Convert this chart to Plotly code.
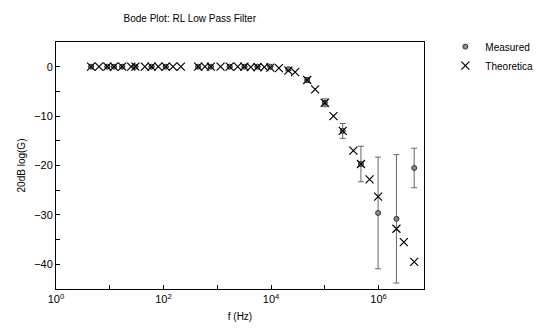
import plotly.graph_objects as go

# Theoretical points (Hz, dB)
theo_f = [4.5, 6.3, 9, 12, 17, 25, 30, 45, 60, 80, 110, 150, 210,
          440, 590, 760, 1150, 1700, 2400, 3200, 4200, 5600, 7500, 9700,
          14000, 21000, 28000, 47000, 66000, 100000, 145000, 215000, 340000,
          470000, 680000, 980000, 2150000, 2950000, 4600000]
theo_db = [0, 0, 0, 0, 0, 0, 0, 0, 0, 0, 0, 0, 0,
           0, 0, 0, 0, 0, 0, 0, -0.1, -0.1, -0.1, -0.2,
           -0.3, -0.8, -1.1, -2.7, -4.6, -7.3, -10.0, -13.0, -17.0,
           -19.7, -22.8, -26.3, -32.8, -35.5, -39.5]

# Measured points (Hz, dB, error)
meas_f = [4.5, 9, 12, 17, 30, 60, 110, 440, 760, 1700, 3200, 5600, 9700,
          21000, 47000, 100000, 215000, 470000, 980000, 2150000, 4600000]
meas_db = [0, 0, 0, 0, 0, 0, 0, 0, 0, 0, 0, 0, 0,
           -0.5, -2.7, -7.3, -13.0, -19.7, -29.6, -30.8, -20.5]
meas_err = [0, 0, 0, 0, 0, 0, 0, 0, 0, 0, 0, 0, 0,
            0.3, 0.5, 0.8, 1.5, 3.6, 11.3, 13.0, 4.0]

x_tickvals = [1, 10, 100, 1000, 10000, 100000, 1000000]
x_ticktext = ["10<sup>0</sup>", "", "10<sup>2</sup>", "", "10<sup>4</sup>", "", "10<sup>6</sup>"]
y_tickvals = [0, -5, -10, -15, -20, -25, -30, -35, -40]
y_ticktext = ["0", "", "\u221210", "", "\u221220", "", "\u221230", "", "\u221240"]

fig = go.Figure()
fig.add_trace(go.Scatter(
    x=meas_f, y=meas_db, mode="markers", name="Measured",
    marker=dict(symbol="circle", size=5, color="#8a8a8a",
                line=dict(color="#333333", width=1)),
    error_y=dict(type="data", array=meas_err, visible=True,
                 color="#666666", thickness=1, width=3),
))
fig.add_trace(go.Scatter(
    x=theo_f, y=theo_db, mode="markers", name="Theoretica",
    marker=dict(symbol="x-thin", size=8, color="black",
                line=dict(color="black", width=1.2)),
))

font = "Liberation Sans, Arial, sans-serif"
fig.update_layout(
    width=550, height=331,
    margin=dict(l=56, r=122, t=42, b=42),
    paper_bgcolor="white", plot_bgcolor="white",
    font=dict(family=font, size=11, color="black"),
    title=dict(text="Bode Plot: RL Low Pass Filter", x=0.345, xanchor="center",
               y=0.945, yanchor="middle", font=dict(size=10)),
    showlegend=True,
    legend=dict(x=1.058, y=1.04, xanchor="left", yanchor="top",
                font=dict(size=10), bgcolor="rgba(0,0,0,0)", tracegroupgap=11),
)
fig.update_xaxes(
    type="log", range=[0, 6.845],
    tickvals=x_tickvals, ticktext=x_ticktext,
    ticks="inside", ticklen=4, tickcolor="black",
    showline=True, linecolor="black", linewidth=1, mirror=True,
    showgrid=False, zeroline=False,
    title=dict(text="f (Hz)", standoff=8, font=dict(size=10)),
)
fig.update_yaxes(
    range=[-45, 5],
    tickvals=y_tickvals, ticktext=y_ticktext,
    ticks="inside", ticklen=4, tickcolor="black",
    showline=True, linecolor="black", linewidth=1, mirror=True,
    showgrid=False, zeroline=False,
    title=dict(text="20dB log(G)", standoff=6, font=dict(size=10)),
)
fig.write_html("out.html")
